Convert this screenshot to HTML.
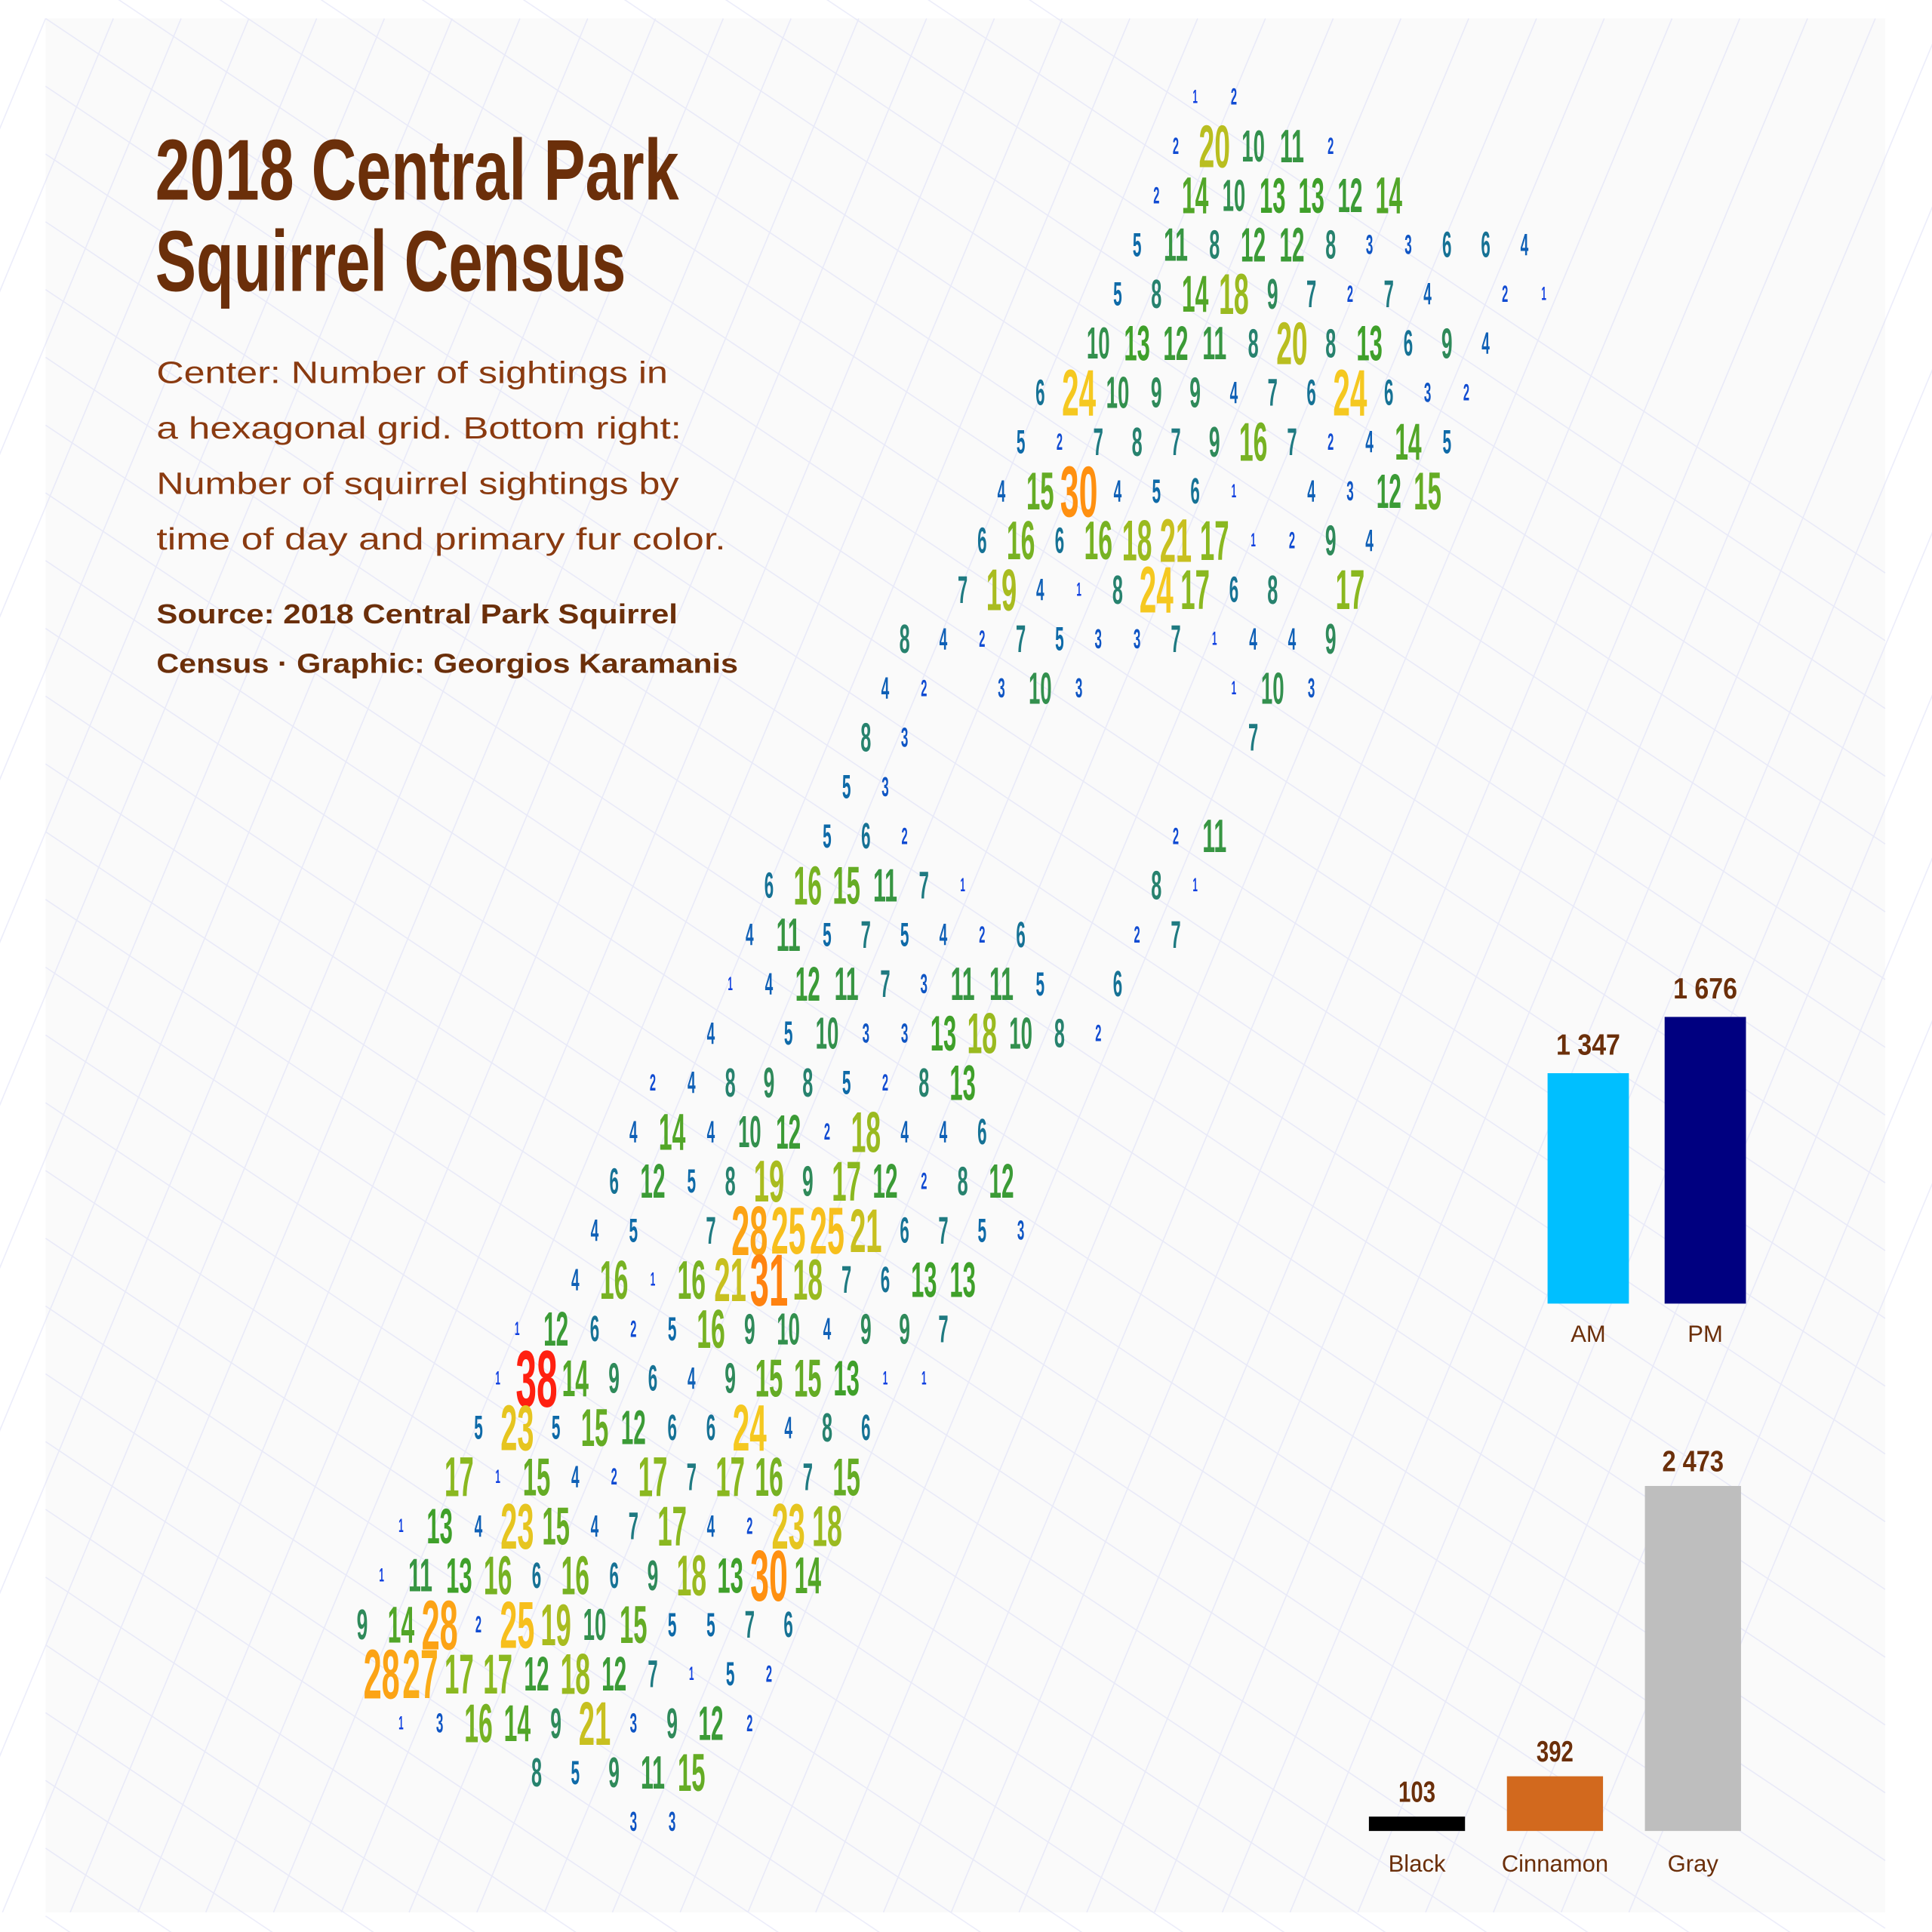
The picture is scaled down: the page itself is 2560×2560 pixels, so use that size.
<!DOCTYPE html>
<html><head><meta charset="utf-8">
<style>
html,body{margin:0;padding:0;background:#fff;width:2560px;height:2560px;overflow:hidden;}
svg{display:block;}
.t{font-family:"Liberation Sans Narrow","Liberation Sans",sans-serif;font-weight:bold;}
</style></head>
<body>
<svg id="chart" width="2560" height="2560" viewBox="0 0 1568 1568" xmlns="http://www.w3.org/2000/svg" overflow="hidden">
  <rect x="0" y="0" width="1568" height="1568" fill="#ffffff"/>
  <rect x="37" y="15" width="1493" height="1537" fill="#fafafa"/>
  <g id="map" stroke="#d6d8f6" stroke-width="1" fill="none"></g>
  <g id="title">
    <text class="t" x="126" y="162" font-size="70" fill="#6b2f0a" textLength="425" lengthAdjust="spacingAndGlyphs">2018 Central Park</text>
    <text class="t" x="126" y="236" font-size="70" fill="#6b2f0a" textLength="382" lengthAdjust="spacingAndGlyphs">Squirrel Census</text>
    <g font-family="Liberation Sans, sans-serif" font-size="25" fill="#8a3a10">
      <text x="127" y="311" textLength="415" lengthAdjust="spacingAndGlyphs">Center: Number of sightings in</text>
      <text x="127" y="356" textLength="426" lengthAdjust="spacingAndGlyphs">a hexagonal grid. Bottom right:</text>
      <text x="127" y="401" textLength="424" lengthAdjust="spacingAndGlyphs">Number of squirrel sightings by</text>
      <text x="127" y="446" textLength="462" lengthAdjust="spacingAndGlyphs">time of day and primary fur color.</text>
    </g>
    <g font-family="Liberation Sans, sans-serif" font-weight="bold" font-size="22" fill="#6b2f0a">
      <text x="127" y="506" textLength="423" lengthAdjust="spacingAndGlyphs">Source: 2018 Central Park Squirrel</text>
      <text x="127" y="546" textLength="472" lengthAdjust="spacingAndGlyphs">Census · Graphic: Georgios Karamanis</text>
    </g>
  </g>
  <g id="hex"></g>
  <g id="bars"></g>
</svg>
<script>
// ---- hex grid data: row start column (half-step units) and values per row ----
const rowStarts = [43,42,41,40,39,38,35,34,33,32,31,28,27,26,25,24,21,20,19,18,15,14,13,12,11,8,7,6,5,2,1,0,1,2,9,14];
const r0=[1,2];
const r1=[2,20,10,11,2];
const r2=[2,14,10,13,13,12,14];
const r3=[5,11,8,12,12,8,3,3,6,6,4];
const r4=[5,8,14,18,9,7,2,7,4,null,2,1];
const r5=[10,13,12,11,8,20,8,13,6,9,4];
const r6=[6,24,10,9,9,4,7,6,24,6,3,2];
const r7=[5,2,7,8,7,9,16,7,2,4,14,5];
const r8=[4,15,30,4,5,6,1,null,4,3,12,15];
const r9=[6,16,6,16,18,21,17,1,2,9,4];
const r10=[7,19,4,1,8,24,17,6,8,null,17];
const r11=[8,4,2,7,5,3,3,7,1,4,4,9];
const r12=[4,2,null,3,10,3,null,null,null,1,10,3];
const r13=[8,3,null,null,null,null,null,null,null,null,7];
const r14=[5,3];
const r15=[5,6,2,null,null,null,null,null,null,2,11];
const r16=[6,16,15,11,7,1,null,null,null,null,8,1];
const r17=[4,11,5,7,5,4,2,6,null,null,2,7];
const r18=[1,4,12,11,7,3,11,11,5,null,6];
const r19=[4,null,5,10,3,3,13,18,10,8,2];
const r20=[2,4,8,9,8,5,2,8,13];
const r21=[4,14,4,10,12,2,18,4,4,6];
const r22=[6,12,5,8,19,9,17,12,2,8,12];
const r23=[4,5,null,7,28,25,25,21,6,7,5,3];
const r24=[4,16,1,16,21,31,18,7,6,13,13];
const r25=[1,12,6,2,5,16,9,10,4,9,9,7];
const r26=[1,38,14,9,6,4,9,15,15,13,1,1];
const r27=[5,23,5,15,12,6,6,24,4,8,6];
const r28=[17,1,15,4,2,17,7,17,16,7,15];
const r29=[1,13,4,23,15,4,7,17,4,2,23,18];
const r30=[1,11,13,16,6,16,6,9,18,13,30,14];
const r31=[9,14,28,2,25,19,10,15,5,5,7,6];
const r32=[28,27,17,17,12,18,12,7,1,5,2];
const r33=[1,3,16,14,9,21,3,9,12,2];
const r34=[8,5,9,11,15];
const r35=[3,3];
const rows=[r0,r1,r2,r3,r4,r5,r6,r7,r8,r9,r10,r11,r12,r13,r14,r15,r16,r17,r18,r19,r20,r21,r22,r23,r24,r25,r26,r27,r28,r29,r30,r31,r32,r33,r34,r35];

// ---- bar chart data ----
const timeCats=["AM","PM"];
const timeVals=[1347,1676];
const timeLabels=["1 347","1 676"];
const furCats=["Black","Cinnamon","Gray"];
const furVals=[103,392,2473];
const furLabels=["103","392","2 473"];

const NS="http://www.w3.org/2000/svg";
function mk(tag,attrs,parent){const e=document.createElementNS(NS,tag);for(const k in attrs)e.setAttribute(k,attrs[k]);parent.appendChild(e);return e;}

// background street lines (decorative)
const map=document.getElementById('map');
for(let i=-16;i<36;i+=1){
  const l=mk('line',{x1:37+i*55,y1:15,x2:37+i*55-640,y2:1552},map);
  
  
}
for(let i=-10;i<36;i++){
  const l=mk('line',{x1:37,y1:15+i*55,x2:1530,y2:15+i*55+1000},map);
  
  
}
map.setAttribute('opacity','0.45');

// hex axes
const hx=c=>294+c*15.72;
const hy=r=>78+r*40;
const stops=[[1,[16,64,224]],[5,[14,106,168]],[9,[47,138,90]],[13,[63,160,42]],[17,[138,184,32]],[21,[200,192,32]],[24,[245,200,32]],[30,[255,144,16]],[38,[255,32,16]]];
function col(v){
  for(let i=0;i<stops.length-1;i++){const a=stops[i],b=stops[i+1];
    if(v<=b[0]){const t=Math.max(0,(v-a[0])/(b[0]-a[0]));return 'rgb('+a[1].map((x,j)=>Math.round(x+(b[1][j]-x)*t)).join(',')+')';}}
  return 'rgb(255,32,16)';
}
const hex=document.getElementById('hex');
rows.forEach((vals,r)=>{
  vals.forEach((v,i)=>{
    if(v===null)return;
    const cap=4+7*Math.sqrt(v);
    const fs=cap/0.72;
    const n=String(v).length;
    const t=mk('text',{x:hx(rowStarts[r]+2*i),y:hy(r)+cap/2,'font-size':fs.toFixed(1),fill:col(v),'text-anchor':'middle',class:'t',textLength:(n*0.36*cap).toFixed(1),lengthAdjust:'spacingAndGlyphs'},hex);
    
    
    t.textContent=v;
  });
});

// bars
const bars=document.getElementById('bars');
const tBase=1058, tScale=187/1347, tX=[1256,1351], tW=66, tCol=["#00bfff","#000080"];
timeVals.forEach((v,i)=>{
  const h=v*tScale;
  const b=mk('rect',{x:tX[i],y:tBase-h,width:tW,height:h,fill:tCol[i]},bars);
  
  
  const l=mk('text',{x:tX[i]+tW/2,y:tBase-h-15,'font-size':'24',fill:'#6b2f0a','text-anchor':'middle',class:'t',textLength:'52',lengthAdjust:'spacingAndGlyphs'},bars);
  
  
  l.textContent=timeLabels[i];
  const c=mk('text',{x:tX[i]+tW/2,y:1089,'font-size':'19',fill:'#6b2f0a','text-anchor':'middle','font-family':'Liberation Sans, sans-serif'},bars);
  
  
  c.textContent=timeCats[i];
});
const fBase=1486, fScale=280/2473, fX=[1111,1223,1335], fW=78, fCol=["#000000","#d2691e","#bebebe"];
furVals.forEach((v,i)=>{
  const h=v*fScale;
  const b=mk('rect',{x:fX[i],y:fBase-h,width:fW,height:h,fill:fCol[i]},bars);
  
  
  const l=mk('text',{x:fX[i]+fW/2,y:fBase-h-12,'font-size':'24',fill:'#6b2f0a','text-anchor':'middle',class:'t',textLength:(furLabels[i].length*10).toString(),lengthAdjust:'spacingAndGlyphs'},bars);
  
  
  l.textContent=furLabels[i];
  const c=mk('text',{x:fX[i]+fW/2,y:1519,'font-size':'19',fill:'#6b2f0a','text-anchor':'middle','font-family':'Liberation Sans, sans-serif'},bars);
  
  
  c.textContent=furCats[i];
});
</script>
</body></html>
